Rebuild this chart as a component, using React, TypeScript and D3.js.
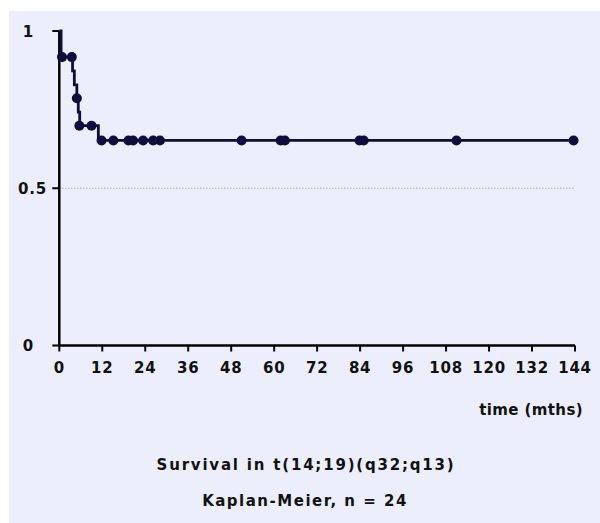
import React from "react";
import * as d3 from "d3";

const stepTimes = [0, 0.5, 3.7, 4.2, 4.9, 5.3, 5.7, 10.9, 144];
const stepSurv = [1, 0.917, 0.873, 0.829, 0.786, 0.742, 0.699, 0.652, 0.652];
const censorTimes = [0.75, 3.5, 4.9, 5.6, 9.0, 11.8, 15.1, 19.3, 20.6, 23.4, 26.2, 28.1, 50.9, 61.8, 63.0, 83.8, 85.0, 110.9, 143.6];
const censorSurv = [0.917, 0.917, 0.786, 0.699, 0.699, 0.652, 0.652, 0.652, 0.652, 0.652, 0.652, 0.652, 0.652, 0.652, 0.652, 0.652, 0.652, 0.652, 0.652];
const xTicks = [0, 12, 24, 36, 48, 60, 72, 84, 96, 108, 120, 132, 144];
const yTicks = [0, 0.5, 1];
const yTickLabels = ["0", "0.5", "1"];
const xLabel = "time (mths)";
const title = "Survival in t(14;19)(q32;q13)";
const subtitle = "Kaplan-Meier, n = 24";

export default function App() {
  const W = 600, H = 523;
  const x = d3.scaleLinear().domain([0, 144]).range([59.3, 575]);
  const y = d3.scaleLinear().domain([0, 1]).range([345.5, 31]);
  const pts: [number, number][] = stepTimes.map((t, i) => [t, stepSurv[i]]);
  const line = d3
    .line<[number, number]>()
    .x((d) => x(d[0]))
    .y((d) => y(d[1]))
    .curve(d3.curveStepAfter);
  const ink = "#0e0e3c";
  const font = "'DejaVu Sans', sans-serif";
  return (
    <svg
      width={W}
      height={H}
      style={{ position: "absolute", left: 0, top: 0, display: "block" }}
    >
      <rect x={0} y={0} width={W} height={H} fill="#ffffff" />
      <rect x={9} y={11} width={W - 9} height={H - 11} fill="#eceefb" />
      <line
        x1={x(0)}
        x2={x(144)}
        y1={y(0.5)}
        y2={y(0.5)}
        stroke="#8a8aa0"
        strokeWidth={1}
        strokeDasharray="1,2"
      />
      {/* y axis */}
      <line x1={x(0)} x2={x(0)} y1={y(1)} y2={y(0)} stroke="#000" strokeWidth={2.5} />
      {yTicks.map((v, i) => (
        <g key={"y" + i}>
          <line x1={x(0) - 7} x2={x(0)} y1={y(v)} y2={y(v)} stroke="#000" strokeWidth={2} />
          <text
            x={i === 1 ? 47 : 34}
            y={y(v) + 5.5}
            textAnchor="end"
            fontFamily={font}
            fontWeight="bold"
            fontSize={15}
            fill="#111"
            letterSpacing={0.8}
          >
            {yTickLabels[i]}
          </text>
        </g>
      ))}
      {/* x axis */}
      <line x1={x(0)} x2={x(144)} y1={y(0)} y2={y(0)} stroke="#000" strokeWidth={2.5} />
      {xTicks.map((v) => (
        <g key={"x" + v}>
          <line x1={x(v)} x2={x(v)} y1={y(0)} y2={y(0) + 6} stroke="#000" strokeWidth={2} />
          <text
            x={x(v)}
            y={373}
            textAnchor="middle"
            fontFamily={font}
            fontWeight="bold"
            fontSize={15}
            fill="#111"
            letterSpacing={0.8}
          >
            {v}
          </text>
        </g>
      ))}
      <path d={line(pts) || ""} fill="none" stroke={ink} strokeWidth={2.8} />
      {censorTimes.map((t, i) => (
        <circle key={"c" + i} cx={x(t)} cy={y(censorSurv[i])} r={5} fill={ink} />
      ))}
      <text
        x={583}
        y={415}
        textAnchor="end"
        fontFamily={font}
        fontWeight="bold"
        fontSize={15}
        fill="#111"
        letterSpacing={0.4}
      >
        {xLabel}
      </text>
      <text
        x={306}
        y={470}
        textAnchor="middle"
        fontFamily={font}
        fontWeight="bold"
        fontSize={15}
        fill="#111"
        letterSpacing={1.8}
      >
        {title}
      </text>
      <text
        x={305}
        y={506}
        textAnchor="middle"
        fontFamily={font}
        fontWeight="bold"
        fontSize={15}
        fill="#111"
        letterSpacing={1.5}
      >
        {subtitle}
      </text>
    </svg>
  );
}
